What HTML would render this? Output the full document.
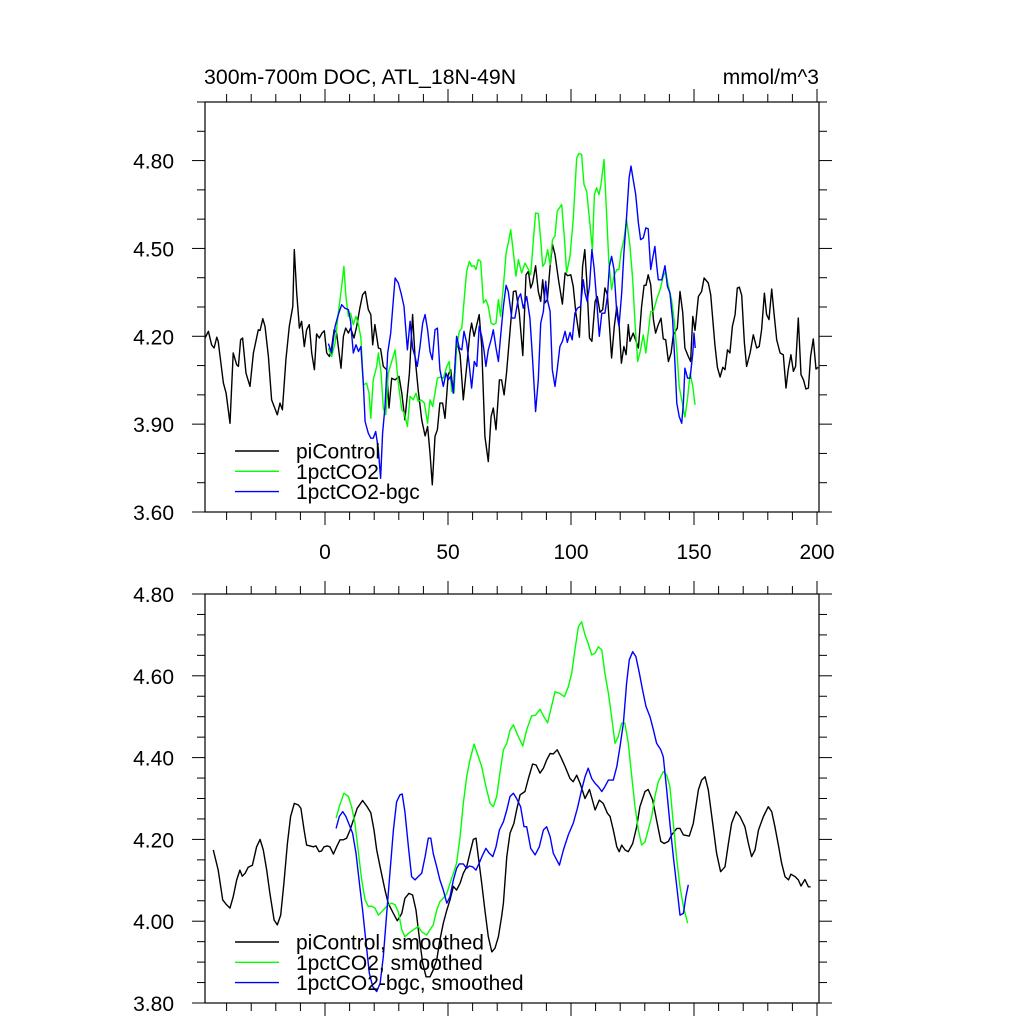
<!DOCTYPE html>
<html><head><meta charset="utf-8"><style>
html,body{margin:0;padding:0;background:#fff;}
svg{display:block;font-family:"Liberation Sans",Arial,sans-serif;}
</style></head><body>
<svg id="chart" width="1024" height="1024" viewBox="0 0 1024 1024" xmlns="http://www.w3.org/2000/svg">
<rect width="1024" height="1024" fill="#fff"/>
<text x="204" y="84" font-size="21.3">300m-700m DOC, ATL_18N-49N</text>
<text x="819" y="84" font-size="21" text-anchor="end">mmol/m^3</text>
<g id="top"></g>
<g id="bot"></g>
</svg>
<script>
// ---- top panel data ----
const piYearsTop=[-48.8,-47.4,-46.1,-45.1,-44.0,-43.4,-41.3,-40.2,-38.6,-37.3,-35.9,-35.2,-34.3,-33.5,-32.1,-30.5,-29.1,-27.1,-26.4,-25.3,-24.4,-23.0,-21.7,-19.4,-18.3,-17.3,-15.9,-14.5,-13.1,-12.5,-11.5,-10.4,-9.5,-8.4,-7.5,-6.4,-5.4,-4.3,-3.4,-2.3,-1.2,-0.3,0.7,1.8,2.7,3.7,4.7,6.5,7.5,8.4,9.5,10.4,11.8,12.9,14.2,15.3,16.4,17.6,18.6,19.4,20.3,21.7,22.6,23.7,25.1,26.0,27.1,28.5,30.1,31.2,32.5,34.3,35.6,36.6,37.9,39.3,40.7,41.7,42.7,43.6,44.7,45.7,46.7,47.8,48.8,50.1,51.1,52.2,53.5,54.9,56.2,57.6,58.9,59.6,60.6,61.7,62.7,63.7,65.0,66.4,67.5,68.4,69.5,70.9,71.8,72.8,73.8,75.5,76.6,77.6,79.0,80.4,81.7,82.7,83.6,84.4,85.6,86.7,87.7,88.5,89.4,90.4,91.5,92.5,93.5,94.9,96.5,97.6,98.6,99.9,100.9,102.0,103.4,104.7,105.6,106.4,107.5,108.5,109.8,110.7,111.8,112.9,113.8,114.8,116.5,117.6,118.6,119.6,120.5,121.5,122.4,123.3,124.0,125.3,127.4,128.7,129.7,130.5,131.4,132.4,133.5,134.4,135.5,136.6,137.5,138.5,139.6,140.7,141.6,143.2,144.3,145.4,146.3,147.7,148.6,149.5,150.4,151.8,153.1,154.1,155.8,156.8,158.5,159.5,160.6,161.7,162.6,163.6,164.6,165.6,166.7,167.6,168.4,169.4,170.5,171.4,172.8,174.1,175.5,176.5,177.5,178.6,179.5,180.5,181.6,182.5,183.6,185.0,186.3,187.4,188.3,189.4,190.4,191.3,192.4,193.5,194.5,195.5,196.5,197.4,198.5,199.6,200.5];
const piValsTop=[4.194,4.217,4.171,4.160,4.197,4.183,4.040,4.006,3.903,4.143,4.103,4.097,4.188,4.194,4.074,4.029,4.143,4.222,4.220,4.260,4.234,4.131,3.983,3.932,3.972,3.949,4.120,4.234,4.302,4.496,4.348,4.228,4.251,4.165,4.222,4.240,4.143,4.086,4.208,4.194,4.211,4.219,4.143,4.131,4.160,4.222,4.211,4.091,4.200,4.228,4.211,4.228,4.194,4.234,4.297,4.342,4.353,4.291,4.274,4.171,4.240,4.160,4.157,4.097,4.086,3.955,4.057,4.051,4.063,4.006,3.915,4.074,4.274,4.131,4.017,3.915,3.860,3.892,3.801,3.693,3.858,3.881,3.972,3.972,3.920,4.069,4.086,4.006,4.188,4.137,3.983,4.097,4.211,4.245,4.200,4.240,4.274,4.165,3.858,3.772,3.926,3.955,3.881,4.051,4.051,4.000,4.074,4.245,4.353,4.355,4.279,4.134,4.410,4.422,4.365,4.382,4.441,4.353,4.319,4.393,4.314,4.325,4.439,4.513,4.479,4.393,4.310,4.416,4.407,4.410,4.371,4.279,4.197,4.439,4.496,4.393,4.194,4.183,4.319,4.336,4.282,4.291,4.365,4.342,4.126,4.234,4.302,4.234,4.108,4.165,4.137,4.240,4.183,4.211,4.160,4.302,4.374,4.374,4.410,4.376,4.257,4.211,4.240,4.262,4.191,4.188,4.114,4.143,4.205,4.228,4.353,4.282,4.160,4.131,4.114,4.268,4.220,4.336,4.353,4.399,4.382,4.342,4.171,4.094,4.061,4.094,4.086,4.154,4.143,4.234,4.274,4.365,4.368,4.340,4.177,4.097,4.143,4.205,4.160,4.165,4.222,4.347,4.274,4.257,4.361,4.279,4.188,4.143,4.137,4.023,4.086,4.137,4.080,4.097,4.262,4.069,4.051,4.020,4.023,4.131,4.191,4.088,4.094];
const co2YearsTop=[1.4,2.7,4.1,5.4,6.8,7.7,8.5,9.5,10.4,11.5,12.6,13.6,14.6,15.6,16.9,17.9,18.6,19.6,21.0,21.7,22.8,23.7,24.7,25.7,27.1,28.5,29.8,31.2,32.2,33.5,34.6,35.9,37.0,37.9,39.0,40.4,41.7,42.7,43.8,44.7,45.7,47.0,48.1,49.5,50.5,51.5,52.4,53.5,54.6,55.6,56.9,57.6,58.7,59.6,60.6,61.4,62.3,63.3,64.4,65.4,66.4,67.5,68.4,69.5,70.5,71.4,72.5,73.6,74.5,75.5,76.6,77.6,78.6,79.9,81.3,82.7,83.6,84.7,85.6,86.7,87.7,88.5,89.4,90.5,91.5,92.5,93.5,94.4,96.2,97.3,98.2,99.6,100.9,102.3,103.2,104.3,105.3,106.4,107.5,108.7,109.5,110.4,111.4,112.2,113.4,114.5,115.4,116.5,117.5,118.6,119.5,120.3,121.5,122.6,124.0,125.1,126.0,127.1,128.0,129.4,130.4,131.4,132.4,133.5,134.8,136.2,137.5,138.5,139.6,140.9,141.9,143.0,144.0,145.0,146.3,147.3,148.4,149.5,150.4];
const co2ValsTop=[4.160,4.131,4.177,4.279,4.371,4.439,4.336,4.268,4.279,4.240,4.268,4.240,4.194,4.034,4.040,4.006,3.920,4.051,4.097,4.143,4.074,3.955,3.932,4.074,4.114,4.154,4.040,3.949,3.938,3.892,3.995,3.983,4.006,3.977,3.983,3.972,3.903,3.983,3.960,4.006,4.057,4.061,4.057,4.097,4.114,4.012,4.006,4.160,4.217,4.228,4.359,4.422,4.456,4.439,4.441,4.428,4.462,4.456,4.314,4.325,4.302,4.245,4.240,4.245,4.325,4.268,4.371,4.485,4.519,4.564,4.485,4.405,4.462,4.416,4.450,4.428,4.410,4.530,4.621,4.619,4.530,4.439,4.450,4.496,4.445,4.530,4.542,4.627,4.650,4.536,4.416,4.473,4.598,4.809,4.824,4.821,4.718,4.695,4.598,4.496,4.684,4.707,4.684,4.718,4.804,4.610,4.450,4.359,4.405,4.428,4.428,4.485,4.530,4.598,4.507,4.393,4.245,4.114,4.143,4.205,4.143,4.211,4.285,4.285,4.325,4.359,4.405,4.422,4.371,4.325,4.257,4.154,4.029,3.983,3.924,3.983,4.074,4.029,3.966];
const bgcYearsTop=[1.4,2.7,4.1,5.4,6.8,8.1,9.5,10.4,11.5,12.6,13.6,14.6,15.6,16.3,17.6,18.6,19.6,20.6,21.7,22.6,23.4,24.4,25.5,26.7,28.5,29.8,30.9,32.1,33.5,34.6,35.6,36.6,37.5,38.6,39.7,40.7,41.7,42.7,43.6,44.7,45.7,46.7,48.1,49.2,50.1,51.1,52.2,53.5,54.6,55.6,56.5,57.6,58.7,59.6,60.7,61.7,62.7,63.7,64.6,65.4,66.4,67.5,68.4,69.5,70.5,71.5,72.5,73.6,74.5,75.9,77.2,78.6,79.5,80.6,82.0,83.3,84.4,85.6,86.7,87.7,88.8,89.7,90.4,91.5,92.4,93.5,94.4,95.5,96.5,97.6,98.5,99.6,100.5,101.6,102.6,103.9,105.0,105.7,106.6,107.5,108.5,109.4,110.4,111.5,112.5,113.8,114.8,115.6,116.5,117.5,118.6,119.5,120.6,121.5,122.6,123.6,124.4,125.3,126.3,127.4,128.3,129.4,130.4,131.4,132.4,133.2,134.1,134.8,135.5,136.9,138.2,139.2,140.2,141.3,142.3,143.0,144.0,145.0,145.7,146.3,147.4,148.4,149.5,150.0,150.5];
const bgcValsTop=[4.175,4.143,4.234,4.274,4.308,4.296,4.291,4.251,4.143,4.171,4.148,4.165,4.034,3.909,3.869,3.852,3.852,3.875,3.812,3.715,3.869,3.960,4.143,4.211,4.399,4.382,4.348,4.302,4.154,4.251,4.160,4.131,4.097,4.165,4.245,4.274,4.222,4.148,4.120,4.222,4.228,4.086,4.029,4.074,4.051,4.063,4.006,4.200,4.160,4.154,4.217,4.177,4.097,4.023,4.114,4.097,4.234,4.200,4.154,4.097,4.154,4.188,4.222,4.160,4.114,4.211,4.302,4.374,4.353,4.262,4.262,4.331,4.345,4.296,4.336,4.262,4.120,3.943,4.051,4.245,4.285,4.388,4.325,4.285,4.086,4.029,4.086,4.165,4.183,4.217,4.179,4.213,4.188,4.279,4.296,4.302,4.393,4.348,4.319,4.371,4.496,4.433,4.325,4.200,4.279,4.279,4.336,4.439,4.473,4.428,4.279,4.234,4.348,4.485,4.610,4.741,4.781,4.735,4.684,4.587,4.530,4.536,4.570,4.567,4.428,4.467,4.507,4.445,4.393,4.393,4.441,4.371,4.348,4.257,4.097,3.972,3.926,3.903,3.972,4.091,4.057,4.057,4.143,4.211,4.160];
// ---- bottom panel data (smoothed) ----
const piYearsBot=[-45.4,-43.4,-41.6,-40.0,-38.6,-37.3,-35.9,-34.6,-33.6,-32.5,-31.2,-29.5,-27.8,-26.4,-25.1,-23.7,-22.4,-20.7,-19.4,-18.0,-16.7,-15.3,-14.0,-12.5,-10.8,-9.8,-8.5,-7.5,-6.1,-4.7,-3.7,-2.4,-1.4,-0.4,0.9,2.0,3.4,4.7,6.1,7.5,8.8,10.2,11.5,13.1,15.3,16.9,18.6,19.9,21.0,22.4,24.4,25.7,27.8,29.4,31.2,32.5,34.1,35.6,37.0,38.3,39.7,41.1,42.7,44.0,45.4,46.7,48.1,49.5,50.8,52.2,53.5,54.9,56.2,57.6,58.9,60.3,61.4,62.3,63.7,65.0,66.4,67.8,69.1,70.5,71.8,72.5,73.9,75.2,76.8,77.9,79.3,81.3,82.7,84.4,85.8,87.4,88.8,90.1,91.5,92.8,94.4,95.8,97.6,99.6,100.9,102.3,103.7,105.7,107.5,109.8,111.5,113.1,114.8,115.9,117.2,118.6,119.6,120.6,122.0,123.3,125.1,126.7,128.0,130.1,131.4,133.2,134.8,136.5,137.9,139.6,140.9,143.0,144.3,145.7,148.1,149.7,151.8,153.1,154.5,155.8,157.6,159.2,160.8,162.6,164.0,165.3,167.1,168.7,170.7,172.1,173.4,174.8,176.2,178.2,180.2,181.6,182.9,184.3,185.6,187.0,188.4,189.4,191.1,192.4,193.5,195.1,196.5,197.4];
const piValsBot=[4.174,4.125,4.052,4.040,4.032,4.060,4.101,4.125,4.110,4.117,4.132,4.137,4.182,4.200,4.174,4.125,4.068,4.003,3.991,4.015,4.093,4.190,4.256,4.288,4.284,4.276,4.223,4.186,4.184,4.182,4.184,4.170,4.172,4.182,4.184,4.182,4.164,4.182,4.199,4.199,4.203,4.223,4.247,4.276,4.295,4.282,4.265,4.223,4.174,4.133,4.076,4.044,4.019,4.001,4.019,4.056,4.068,4.064,4.027,3.962,3.897,3.864,3.864,3.881,3.905,3.954,3.995,4.027,4.052,4.085,4.076,4.093,4.117,4.133,4.166,4.200,4.203,4.158,4.093,4.027,3.962,3.925,3.934,3.962,4.011,4.044,4.158,4.215,4.239,4.272,4.309,4.317,4.349,4.384,4.382,4.362,4.374,4.394,4.410,4.409,4.419,4.402,4.378,4.349,4.341,4.357,4.337,4.300,4.322,4.272,4.296,4.288,4.264,4.256,4.223,4.182,4.170,4.186,4.174,4.170,4.190,4.231,4.280,4.317,4.322,4.296,4.247,4.195,4.190,4.195,4.211,4.227,4.227,4.211,4.208,4.239,4.321,4.345,4.353,4.321,4.239,4.166,4.121,4.133,4.190,4.239,4.268,4.256,4.231,4.190,4.158,4.174,4.223,4.256,4.280,4.268,4.231,4.186,4.142,4.109,4.101,4.115,4.109,4.101,4.086,4.102,4.084,4.084];
const co2YearsBot=[4.5,5.8,7.7,9.5,10.8,12.2,13.6,14.9,16.3,17.6,19.0,20.3,21.7,23.0,24.4,25.7,27.1,28.5,29.8,31.2,32.5,33.9,35.9,37.9,39.3,41.3,42.7,44.0,45.4,46.7,48.1,49.5,50.8,52.2,53.5,54.9,56.2,57.6,58.9,60.6,61.9,63.7,65.4,67.1,68.4,69.8,71.1,72.5,73.9,75.2,76.6,78.6,80.4,82.0,84.0,85.6,87.4,89.0,90.5,91.7,93.5,95.5,97.3,98.9,100.3,101.6,103.0,104.3,105.7,107.0,108.4,109.8,111.1,112.5,113.8,115.2,116.5,117.9,119.2,120.6,121.9,123.3,124.7,126.0,127.4,128.7,130.1,131.4,132.8,134.1,135.5,137.5,138.9,140.2,141.6,143.0,144.3,145.7,147.4];
const co2ValsBot=[4.252,4.280,4.313,4.305,4.280,4.239,4.166,4.101,4.052,4.036,4.037,4.032,4.015,4.023,4.032,4.040,4.044,4.040,4.023,3.979,3.962,3.970,3.979,3.987,3.974,3.966,3.979,3.991,4.027,4.048,4.056,4.068,4.093,4.117,4.142,4.207,4.288,4.353,4.394,4.433,4.410,4.378,4.329,4.288,4.280,4.305,4.362,4.419,4.435,4.467,4.480,4.451,4.428,4.468,4.502,4.504,4.518,4.500,4.485,4.516,4.561,4.557,4.549,4.573,4.606,4.663,4.720,4.732,4.700,4.679,4.651,4.655,4.671,4.663,4.606,4.557,4.500,4.435,4.451,4.484,4.484,4.435,4.353,4.280,4.223,4.186,4.194,4.223,4.256,4.305,4.341,4.366,4.357,4.329,4.239,4.150,4.084,4.036,3.995];
const bgcYearsBot=[4.5,5.8,7.2,8.5,9.9,11.2,12.6,14.0,15.3,16.7,18.0,19.4,21.0,22.4,23.7,25.1,26.4,27.8,29.1,30.5,31.4,32.5,33.9,35.2,36.6,37.9,39.3,40.7,42.0,43.0,44.0,45.4,46.7,48.1,49.5,50.8,52.2,53.5,54.6,56.2,57.6,58.7,60.0,61.4,62.7,64.1,65.4,66.8,68.2,69.5,70.9,72.5,73.9,75.2,76.6,77.9,79.5,80.9,82.0,83.6,85.4,87.1,88.8,90.1,91.5,92.8,95.3,96.9,98.9,100.9,102.6,104.3,105.7,107.0,108.4,109.8,111.1,112.5,113.8,115.2,117.2,118.6,119.9,121.3,122.6,123.7,125.1,126.4,127.8,129.1,130.5,132.1,133.5,134.8,136.5,137.5,138.9,140.2,141.6,143.0,144.3,145.7,146.7,147.7];
const bgcValsBot=[4.227,4.256,4.268,4.256,4.235,4.215,4.166,4.093,4.027,3.946,3.873,3.840,3.828,3.848,3.913,4.019,4.117,4.223,4.292,4.309,4.311,4.268,4.182,4.109,4.101,4.109,4.117,4.158,4.203,4.203,4.166,4.133,4.101,4.076,4.044,4.060,4.101,4.129,4.140,4.140,4.129,4.135,4.133,4.125,4.142,4.162,4.178,4.166,4.158,4.182,4.223,4.243,4.272,4.305,4.313,4.300,4.280,4.231,4.231,4.178,4.162,4.182,4.223,4.231,4.207,4.166,4.137,4.174,4.211,4.239,4.276,4.321,4.353,4.374,4.349,4.337,4.329,4.317,4.329,4.345,4.345,4.378,4.427,4.484,4.582,4.639,4.659,4.647,4.606,4.565,4.525,4.500,4.468,4.435,4.419,4.402,4.321,4.239,4.158,4.084,4.015,4.019,4.060,4.089];
const xTicks=[0,50,100,150,200];
const yTicksTop=[3.60,3.90,4.20,4.50,4.80];
const yTicksBot=[3.80,4.00,4.20,4.40,4.60,4.80];
const legendTop=["piControl","1pctCO2","1pctCO2-bgc"];
const legendBot=["piControl, smoothed","1pctCO2, smoothed","1pctCO2-bgc, smoothed"];

const NS="http://www.w3.org/2000/svg";
const L=205,R=819;
const xs=yr=>325+yr*2.46;
function mk(parent,tag,attrs){const e=document.createElementNS(NS,tag);for(const k in attrs)e.setAttribute(k,attrs[k]);parent.appendChild(e);return e;}
function panel(g,T,B,ymin,ymax,yMajor,yMinorStep,yTicks,xLabels,series,legend,legY){
  const ys=v=>B-(v-ymin)/(ymax-ymin)*(B-T);
  const colors=["#000","#00ff00","#0000ff"];
  const names=["picontrol-line","pctco2-line","pctco2-bgc-line"];
  series.forEach((s,i)=>{
    let d="";s[0].forEach((yr,j)=>{d+=(j?"L":"M")+xs(yr).toFixed(1)+","+ys(s[1][j]).toFixed(1);});
    const p=mk(g,"path",{d:d,fill:"none",stroke:colors[i],"stroke-width":"1.4","stroke-linejoin":"round"});
    
    
  });
  const f=mk(g,"rect",{x:L,y:T,width:R-L,height:B-T,fill:"none",stroke:"#000","stroke-width":"1.2"});
  
  
  for(let yr=-40;yr<=200;yr+=10){
    const x=xs(yr),maj=(yr%50===0),len=maj?13:8;
    const t1=mk(g,"line",{x1:x,x2:x,y1:B,y2:B+len,stroke:"#000","stroke-width":"1"});
    
    
    const t2=mk(g,"line",{x1:x,x2:x,y1:T,y2:T-len,stroke:"#000","stroke-width":"1"});
    
    
  }
  if(xLabels){xTicks.forEach(v=>{
    const t=mk(g,"text",{x:xs(v),y:B+47,"font-size":"21","text-anchor":"middle"});t.textContent=String(v);
    
    
  });}
  const n=Math.round((ymax-ymin)/yMinorStep);
  for(let k=0;k<=n;k++){
    const v=ymin+k*yMinorStep,y=ys(v);
    const maj=yTicks.some(t=>Math.abs(t-v)<1e-6),len=maj?13:8;
    const a=mk(g,"line",{x1:L,x2:L-len,y1:y,y2:y,stroke:"#000","stroke-width":"1"});
    
    
    const b=mk(g,"line",{x1:R,x2:R+len,y1:y,y2:y,stroke:"#000","stroke-width":"1"});
    
    
  }
  yTicks.forEach(v=>{
    const t=mk(g,"text",{x:174,y:ys(v)+8,"font-size":"21","text-anchor":"end"});t.textContent=v.toFixed(2);
    
    
  });
  legend.forEach((lab,i)=>{
    const y=legY+i*20.3;
    const l=mk(g,"line",{x1:235,x2:279,y1:y,y2:y,stroke:colors[i],"stroke-width":"1.4"});
    
    
    const t=mk(g,"text",{x:296,y:y+7.5,"font-size":"21"});t.textContent=lab;
    
    
  });
}
panel(document.getElementById("top"),102,512,3.6,5.0,0.3,0.1,yTicksTop,true,
  [[piYearsTop,piValsTop],[co2YearsTop,co2ValsTop],[bgcYearsTop,bgcValsTop]],legendTop,451);
panel(document.getElementById("bot"),594,1003,3.8,4.8,0.2,0.05,yTicksBot,false,
  [[piYearsBot,piValsBot],[co2YearsBot,co2ValsBot],[bgcYearsBot,bgcValsBot]],legendBot,942);
</script>
</body></html>
